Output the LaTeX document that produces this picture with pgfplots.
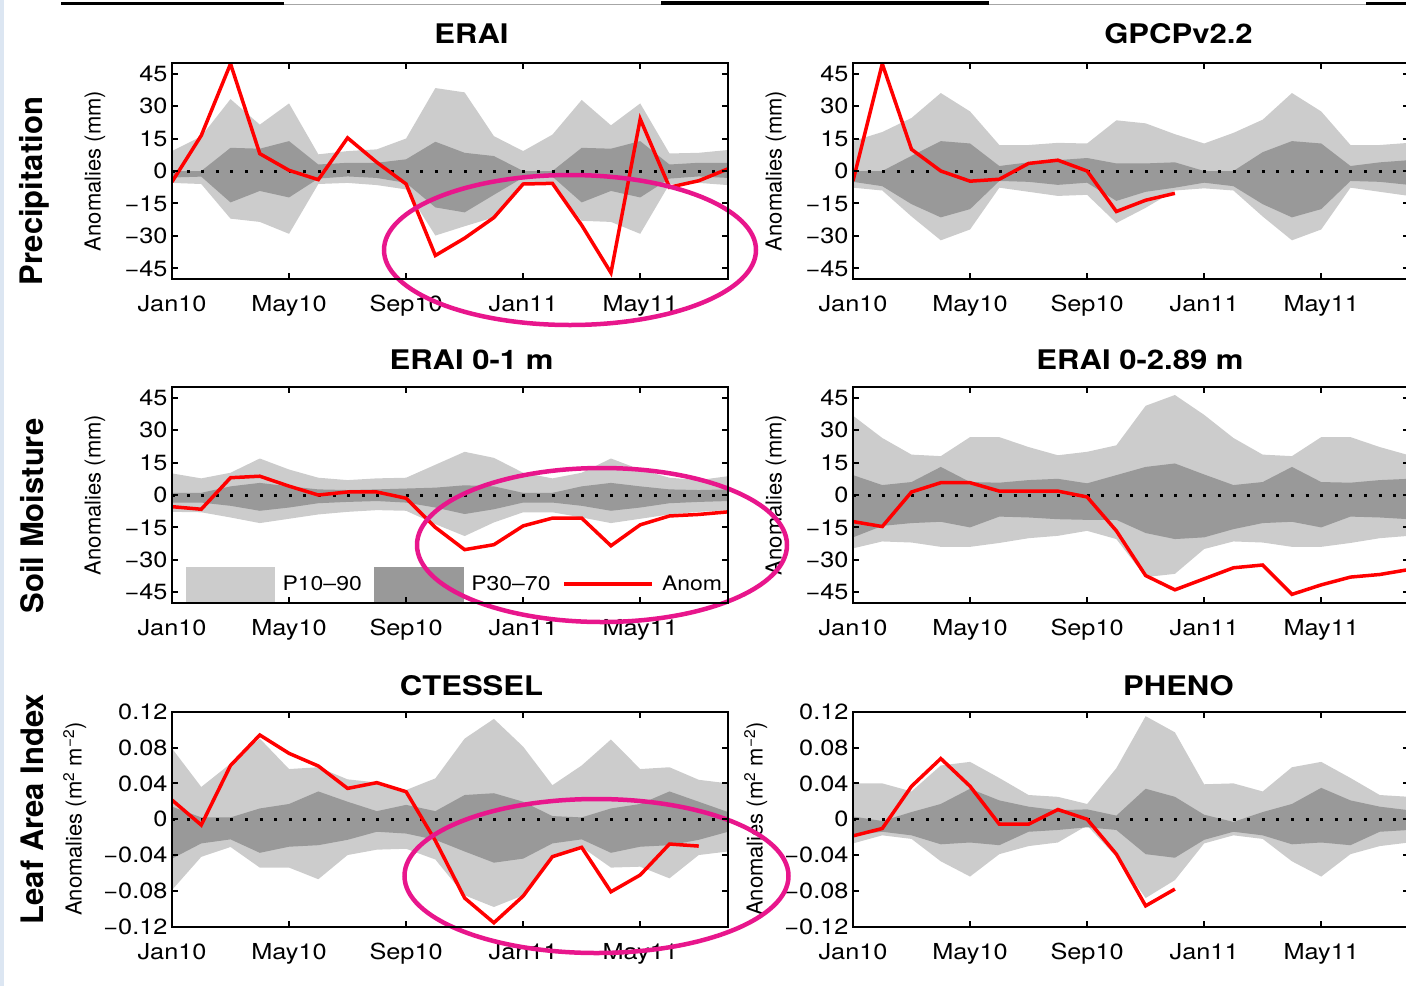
\documentclass[border=0pt]{standalone}
\usepackage{fontspec}
\setmainfont{TeX Gyre Heros}[FakeStretch=1.15]
\newfontfamily\rotfont{TeX Gyre Heros}
\usepackage{pgfplots}
\usepgfplotslibrary{fillbetween}
\pgfplotsset{compat=1.18}
\usepackage{pgfplotstable}

\definecolor{lightband}{gray}{0.8}
\definecolor{darkband}{gray}{0.6}
\definecolor{circ}{RGB}{232,22,140}
\definecolor{stripblue}{RGB}{220,230,242}

% ERAI precipitation
\pgfplotstableread{
m lu ll du dl an
0 9.2 -5.5 0 -3 -5
1 16 -6 0 -2.6 16.4
2 33.2 -22 10.7 -14.5 49.5
3 21.4 -23.5 10.3 -9.2 8
4 31.2 -29 13.8 -12.2 0.3
5 7.7 -6 3 -3.5 -4
6 9.2 -5.5 3.8 -2.5 15.3
7 10 -6.5 3.8 -3.2 4
8 15 -8.5 5.4 -5.5 -6
9 38.3 -29.8 13.5 -16.8 -39
10 36.3 -25.5 8.4 -19.1 -31
11 16.1 -21.4 6.9 -11 -21.5
12 9.2 -5.5 0 -3 -6
13 16.8 -6 0 -2.6 -5.7
14 32.8 -23 10.7 -14.5 -25
15 21.1 -23.5 10.3 -9.2 -47
16 31.2 -29 13.8 -12.2 24
17 8.1 -6 3 -3.5 -7.5
18 8.4 -5.5 3.8 -2.5 -4.5
19 9.7 -6.5 3.8 -3.2 1
}\tabA

% GPCP v2.2
\pgfplotstableread{
m lu ll du dl an
0 13.8 -7.7 0 -5 -4.6
1 18 -9 0 -7 49.5
2 24.5 -21 7 -15.3 10
3 36 -32 13.8 -21.4 0
4 27.5 -27 12.7 -17.6 -4.7
5 12 -7.7 2.3 -4.6 -3.8
6 12 -9.6 4 -5 3.5
7 13 -11.5 5 -6.4 5
8 12.7 -11 6 -5.4 0
9 23.4 -24 3.5 -13.8 -18.7
10 22 -17 3.5 -9.6 -13.5
11 17 -9 4 -7.7 -10.3
12 12.7 -8 0 -5.4 nan
13 17.6 -9 0 -7 nan
14 23.7 -21 8.7 -15.3 nan
15 36 -32 13.8 -21.4 nan
16 27.5 -27 12.7 -17.6 nan
17 12 -7.7 2.3 -4.6 nan
18 12 -9.6 4 -5 nan
19 13 -11.5 5 -6.4 nan
}\tabB

% ERAI 0-1 m
\pgfplotstableread{
m lu ll du dl an
0 10 -7.8 1 -3.5 -5.4
1 7.7 -8 1 -3.5 -6.6
2 10.3 -10.4 4 -5 8
3 16.9 -13 5.6 -7.3 8.7
4 11.8 -11 4 -5.8 4.1
5 8 -9 2.6 -3.8 0
6 6.9 -7.8 2.3 -3.2 1.4
7 7.7 -7 2.6 -2.8 1.4
8 8 -7.3 3 -3.5 -1.5
9 14 -13.5 3.4 -5.8 -15
10 20 -19 4.5 -8.8 -25.3
11 17.2 -12.7 4 -6.6 -23
12 10.3 -8 1 -3.5 -14.3
13 7.7 -8 1 -3.5 -10.7
14 10.3 -10.4 4 -5 -10.7
15 16.9 -13 5.6 -7.3 -23.5
16 11.8 -11 4 -5.8 -13.8
17 8 -9 2.6 -3.8 -9.7
18 6.9 -7.8 2.3 -3.2 -9
19 8.7 -7 2.6 -2.8 -7.8
}\tabC

% ERAI 0-2.89 m
\pgfplotstableread{
m lu ll du dl an
0 36.7 -24.7 9.2 -19.6 -12.3
1 26.4 -21.5 4.6 -14.3 -14.6
2 18.7 -22 6 -13 1.4
3 18 -24 13 -12.4 5.7
4 26.8 -24 6 -15 5.7
5 26.8 -22.2 5.7 -10 1.8
6 22.2 -20 6.9 -10.4 1.8
7 18.4 -18.9 7.5 -11.2 1.8
8 20 -16.6 5.4 -11.5 -0.9
9 23 -20.4 9.2 -11.5 -16.6
10 41.3 -38 13 -17.6 -37.3
11 46.3 -36.5 14.6 -20.4 -43.9
12 37.1 -25 9.5 -19.6 -38.8
13 26.4 -21.5 4.6 -15.8 -33.7
14 18.7 -22 6 -13 -32.4
15 18 -24 13 -12.4 -46
16 26.8 -24 6 -15 -41.6
17 26.8 -22.2 5.7 -10 -38
18 22.2 -20 6.9 -10.4 -36.8
19 18.4 -18.9 7.5 -11.2 -34.5
}\tabD

% CTESSEL LAI
\pgfplotstableread{
m lu ll du dl an
0 0.079 -0.079 0.014 -0.044 0.0214
1 0.036 -0.042 0.002 -0.027 -0.0065
2 0.062 -0.031 0.002 -0.0225 0.060
3 0.090 -0.054 0.012 -0.0375 0.094
4 0.056 -0.054 0.017 -0.0307 0.0735
5 0.058 -0.067 0.031 -0.029 0.0594
6 0.0445 -0.040 0.0195 -0.023 0.0344
7 0.041 -0.034 0.009 -0.014 0.0408
8 0.0326 -0.033 0.016 -0.016 0.0307
9 0.0456 -0.045 0.009 -0.023 -0.024
10 0.090 -0.085 0.027 -0.036 -0.088
11 0.112 -0.098 0.029 -0.0485 -0.1156
12 0.081 -0.085 0.0195 -0.044 -0.0858
13 0.038 -0.040 0.0035 -0.027 -0.0418
14 0.060 -0.031 0.002 -0.0225 -0.0314
15 0.089 -0.054 0.012 -0.0375 -0.081
16 0.056 -0.053 0.017 -0.0307 -0.0623
17 0.058 -0.066 0.031 -0.029 -0.0277
18 0.044 -0.040 0.0195 -0.023 -0.030
19 0.040 -0.036 0.008 -0.014 nan
}\tabE

% PHENO LAI
\pgfplotstableread{
m lu ll du dl an
0 0.040 -0.027 0.003 -0.018 -0.0186
1 0.040 -0.018 -0.002 -0.014 -0.0104
2 0.031 -0.022 0.008 -0.018 0.0368
3 0.060 -0.047 0.017 -0.028 0.0677
4 0.064 -0.064 0.034 -0.026 0.0368
5 0.046 -0.039 0.021 -0.029 -0.0056
6 0.027 -0.030 0.014 -0.014 -0.0056
7 0.025 -0.026 0.010 -0.012 0.0108
8 0.017 -0.007 0.011 -0.009 0
9 0.057 -0.042 0.004 -0.012 -0.039
10 0.115 -0.088 0.034 -0.039 -0.0967
11 0.097 -0.068 0.025 -0.043 -0.078
12 0.039 -0.027 0.005 -0.023 nan
13 0.040 -0.018 -0.003 -0.014 nan
14 0.031 -0.022 0.008 -0.018 nan
15 0.058 -0.047 0.017 -0.028 nan
16 0.064 -0.064 0.035 -0.026 nan
17 0.046 -0.039 0.021 -0.029 nan
18 0.027 -0.030 0.014 -0.014 nan
19 0.025 -0.026 0.010 -0.012 nan
}\tabF

\pgfplotsset{
  panel/.style={
    scale only axis, width=556pt,
    xmin=0, xmax=19,
    xtick={0,4,8,12,16}, xticklabels={Jan10,May10,Sep10,Jan11,May11},
    tick align=inside, major tick length=6pt,
    axis line style={line width=2pt},
    every tick/.style={black, line width=2pt},
    axis on top,
    tick label style={font=\fontsize{22}{24}\selectfont},
    xticklabel style={anchor=base, yshift=-32.5pt},
    yticklabel style={xshift=-1pt},
    ylabel style={font=\rotfont\fontsize{22}{24}\selectfont, anchor=center},
  },
  mmpanel/.style={panel, ymin=-50, ymax=50,
    ytick={-45,-30,-15,0,15,30,45},
    yticklabels={−45,−30,−15,0,15,30,45},
    ylabel={Anomalies (mm)},
    ylabel style={at={(axis description cs:-0.1385,0.5)}}},
  laipanel/.style={panel, ymin=-0.12, ymax=0.12,
    ytick={-0.12,-0.08,-0.04,0,0.04,0.08,0.12},
    yticklabels={−0.12,−0.08,−0.04,0,0.04,0.08,0.12},
    ylabel={Anomalies (m\textsuperscript{2} m\textsuperscript{−2})},
    ylabel style={at={(axis description cs:-0.175,0.5)}}},
  zeroline/.style={black, line width=3pt, dash pattern=on 3pt off 11.6pt},
  anomline/.style={red, line width=3.5pt},
}

\newcommand{\bands}[1]{%
  \addplot[name path=lu, draw=none, forget plot] table[x=m,y=lu]{#1};
  \addplot[name path=ll, draw=none, forget plot] table[x=m,y=ll]{#1};
  \addplot[lightband, forget plot] fill between[of=lu and ll];
  \addplot[name path=du, draw=none, forget plot] table[x=m,y=du]{#1};
  \addplot[name path=dl, draw=none, forget plot] table[x=m,y=dl]{#1};
  \addplot[darkband, forget plot] fill between[of=du and dl];
  \addplot[zeroline, forget plot] coordinates {(0,0) (19,0)};
  \addplot[anomline, forget plot] table[x=m,y=an]{#1};
}

\begin{document}
\begin{tikzpicture}
\fill[stripblue] (0pt,0pt) rectangle (4pt,-986pt);

% Row 1
\begin{axis}[mmpanel, height=216.6pt, at={(172pt,-279.3pt)}, anchor=south west]
\bands{\tabA}
\end{axis}
\begin{axis}[mmpanel, height=216.6pt, at={(853pt,-279.3pt)}, anchor=south west]
\bands{\tabB}
\end{axis}

% Row 2
\begin{axis}[mmpanel, height=216pt, at={(172pt,-603pt)}, anchor=south west,
  legend columns=3,
  legend style={at={(axis description cs:0.0255,0.008)}, anchor=south west,
    draw=none, fill=none, inner sep=0pt, outer sep=0pt,
    font=\fontsize{20}{22}\selectfont,
    /tikz/every odd column/.append style={column sep=6pt},
    /tikz/every even column/.append style={column sep=10pt}}]
\bands{\tabC}
\addlegendimage{legend image code/.code={\fill[lightband] (0pt,-17pt) rectangle (88pt,17pt);}}
\addlegendentry{P10–90}
\addlegendimage{legend image code/.code={\fill[darkband] (0pt,-17pt) rectangle (89pt,17pt);}}
\addlegendentry{P30–70}
\addlegendimage{legend image code/.code={\draw[red, line width=3.5pt] (0pt,0pt) -- (88pt,0pt);}}
\addlegendentry{Anom}
\end{axis}
\begin{axis}[mmpanel, height=216pt, at={(853pt,-603pt)}, anchor=south west]
\bands{\tabD}
\end{axis}

% Row 3
\begin{axis}[laipanel, height=215pt, at={(172pt,-926.7pt)}, anchor=south west]
\bands{\tabE}
\end{axis}
\begin{axis}[laipanel, height=215pt, at={(853pt,-926.7pt)}, anchor=south west]
\bands{\tabF}
\end{axis}

% slide artefacts on the top borders
\fill[white] (283.5pt,-384.5pt) rectangle (660pt,-389pt);
\draw[gray, line width=0.6pt] (283.5pt,-387pt) -- (660pt,-387pt);
\fill[white] (952pt,-384.5pt) rectangle (1328pt,-389pt);
\draw[gray, line width=0.6pt] (952pt,-387pt) -- (1328pt,-387pt);
\fill[white] (283.5pt,-709pt) rectangle (660pt,-713.5pt);
\fill[white] (990pt,-709pt) rectangle (1366pt,-713.5pt);
\draw[gray!70, line width=0.8pt] (61pt,-4pt) -- (1406pt,-4pt);
\draw[black, line width=3pt] (61pt,-3pt) -- (284pt,-3pt);
\draw[black, line width=3.5pt] (661pt,-3pt) -- (989pt,-3pt);
\draw[black, line width=3pt] (1366pt,-3pt) -- (1406pt,-3pt);

% titles
\begin{scope}[every node/.style={font=\bfseries\fontsize{27}{30}\selectfont, anchor=base, inner sep=0pt}]
\node at (471.5pt,-43pt) {ERAI};
\node at (1178.5pt,-43pt) {GPCPv2.2};
\node at (471.5pt,-369pt) {ERAI 0-1 m};
\node at (1140pt,-369pt) {ERAI 0-2.89 m};
\node at (471.5pt,-695pt) {CTESSEL};
\node at (1178.5pt,-695pt) {PHENO};
\end{scope}

% row labels
\begin{scope}[every node/.style={font=\rotfont\bfseries\fontsize{31}{34}\selectfont, anchor=base, rotate=90, inner sep=0pt}]
\node at (42pt,-191pt) {Precipitation};
\node at (43pt,-516pt) {Soil Moisture};
\node at (43pt,-809pt) {Leaf Area Index};
\end{scope}

% highlight ellipses
\draw[circ, line width=4.5pt] (570pt,-250pt) ellipse [x radius=186pt, y radius=75pt];
\draw[circ, line width=4.5pt] (602pt,-545pt) ellipse [x radius=185pt, y radius=77pt];
\draw[circ, line width=4.5pt] (596.5pt,-876pt) ellipse [x radius=192pt, y radius=77pt];

\pgfresetboundingbox
\path[use as bounding box] (0pt,0pt) rectangle (1406pt,-986pt);
\end{tikzpicture}
\end{document}
